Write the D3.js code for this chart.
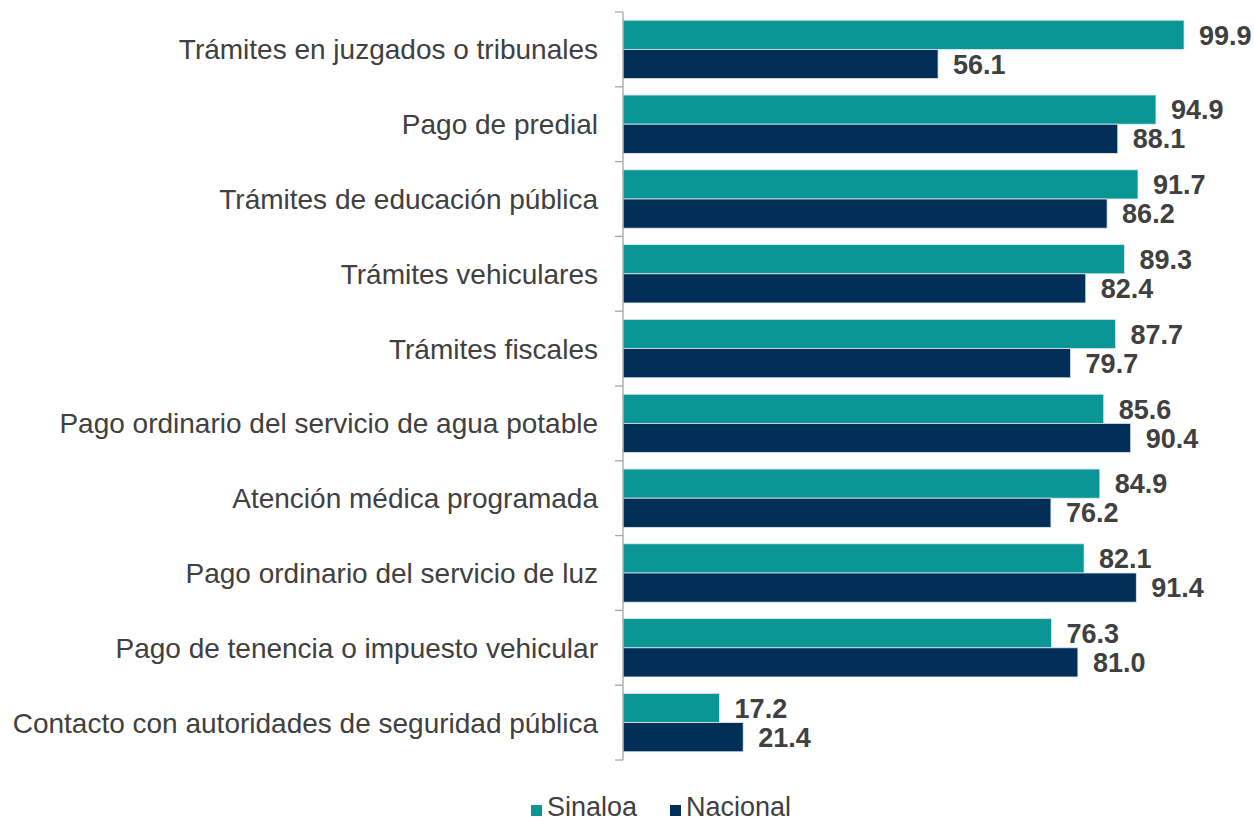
<!DOCTYPE html>
<html>
<head>
<meta charset="utf-8">
<script src="https://cdn.jsdelivr.net/npm/d3@7"></script>
<style>
  body { margin: 0; background: #fff; }
  svg text { font-family: "Liberation Sans", Arial, sans-serif; }
</style>
</head>
<body>
<div id="chart"></div>
<script>
// categories top to bottom
const categories = [
    "Trámites en juzgados o tribunales",
    "Pago de predial",
    "Trámites de educación pública",
    "Trámites vehiculares",
    "Trámites fiscales",
    "Pago ordinario del servicio de agua potable",
    "Atención médica programada",
    "Pago ordinario del servicio de luz",
    "Pago de tenencia o impuesto vehicular",
    "Contacto con autoridades de seguridad pública"
];
const sinaloa = [99.9, 94.9, 91.7, 89.3, 87.7, 85.6, 84.9, 82.1, 76.3, 17.2];
const nacional = [56.1, 88.1, 86.2, 82.4, 79.7, 90.4, 76.2, 91.4, 81.0, 21.4];
const seriesNames = ["Sinaloa", "Nacional"];
const seriesColors = ["#0b9696", "#022f57"];

const W = 1254, H = 823;
const plotLeft = 623, plotTop = 12, plotBottom = 760;

const svg = d3.select("#chart").append("svg")
    .attr("width", W)
    .attr("height", H);

const x = d3.scaleLinear().domain([0, 100]).range([plotLeft, plotLeft + 561.6]);
const y = d3.scaleBand().domain(categories).range([plotTop, plotBottom]).paddingInner(0.22).paddingOuter(0.11);
const ySub = d3.scaleBand().domain(seriesNames).range([0, y.bandwidth()]);

const rows = categories.map((c, i) => ({ cat: c, values: [sinaloa[i], nacional[i]] }));

// bars
const groups = svg.selectAll(".row")
    .data(rows)
    .enter().append("g")
    .attr("class", "row")
    .attr("transform", d => `translate(0,${y(d.cat)})`);

groups.selectAll("rect")
    .data(d => d.values.map((v, k) => ({ v, k })))
    .enter().append("rect")
    .attr("x", x(0))
    .attr("y", d => ySub(seriesNames[d.k]))
    .attr("width", d => x(d.v) - x(0))
    .attr("height", ySub.bandwidth())
    .attr("fill", d => seriesColors[d.k])
    .attr("stroke", "#dfe9ee")
    .attr("stroke-width", 0.8);

groups.selectAll(".val")
    .data(d => d.values.map((v, k) => ({ v, k })))
    .enter().append("text")
    .attr("class", "val")
    .attr("x", d => x(d.v) + 15)
    .attr("y", d => ySub(seriesNames[d.k]) + ySub.bandwidth() / 2)
    .attr("dy", "0.36em")
    .style("font-size", "27px")
    .style("font-weight", "bold")
    .style("fill", "#404040")
    .text(d => d.v.toFixed(1));

// category axis
const axis = svg.append("g").attr("class", "axis");
axis.append("line")
    .attr("x1", plotLeft).attr("x2", plotLeft)
    .attr("y1", plotTop).attr("y2", plotBottom)
    .attr("stroke", "#a6a6a6").attr("stroke-width", 1.3);

const tickYs = d3.range(categories.length + 1).map(i => plotTop + i * (plotBottom - plotTop) / categories.length);
axis.selectAll(".tick")
    .data(tickYs)
    .enter().append("line")
    .attr("x1", plotLeft - 8).attr("x2", plotLeft)
    .attr("y1", d => d).attr("y2", d => d)
    .attr("stroke", "#a6a6a6").attr("stroke-width", 1.3);

axis.selectAll(".lbl")
    .data(categories)
    .enter().append("text")
    .attr("class", "lbl")
    .attr("x", plotLeft - 25)
    .attr("y", d => y(d) + y.bandwidth() / 2)
    .attr("dy", "0.36em")
    .attr("text-anchor", "end")
    .style("font-size", "28px")
    .style("fill", "#404040")
    .text(d => d);

// legend
const legend = svg.append("g").attr("transform", "translate(531,808)");
const legendX = [0, 139];
seriesNames.forEach((name, i) => {
    legend.append("rect")
        .attr("x", legendX[i]).attr("y", -3)
        .attr("width", 11).attr("height", 11)
        .attr("fill", seriesColors[i]);
    legend.append("text")
        .attr("x", legendX[i] + 16)
        .attr("y", 0)
        .attr("dy", "0.3em")
        .style("font-size", "27px")
        .style("fill", "#404040")
        .text(name);
});
</script>
</body>
</html>
